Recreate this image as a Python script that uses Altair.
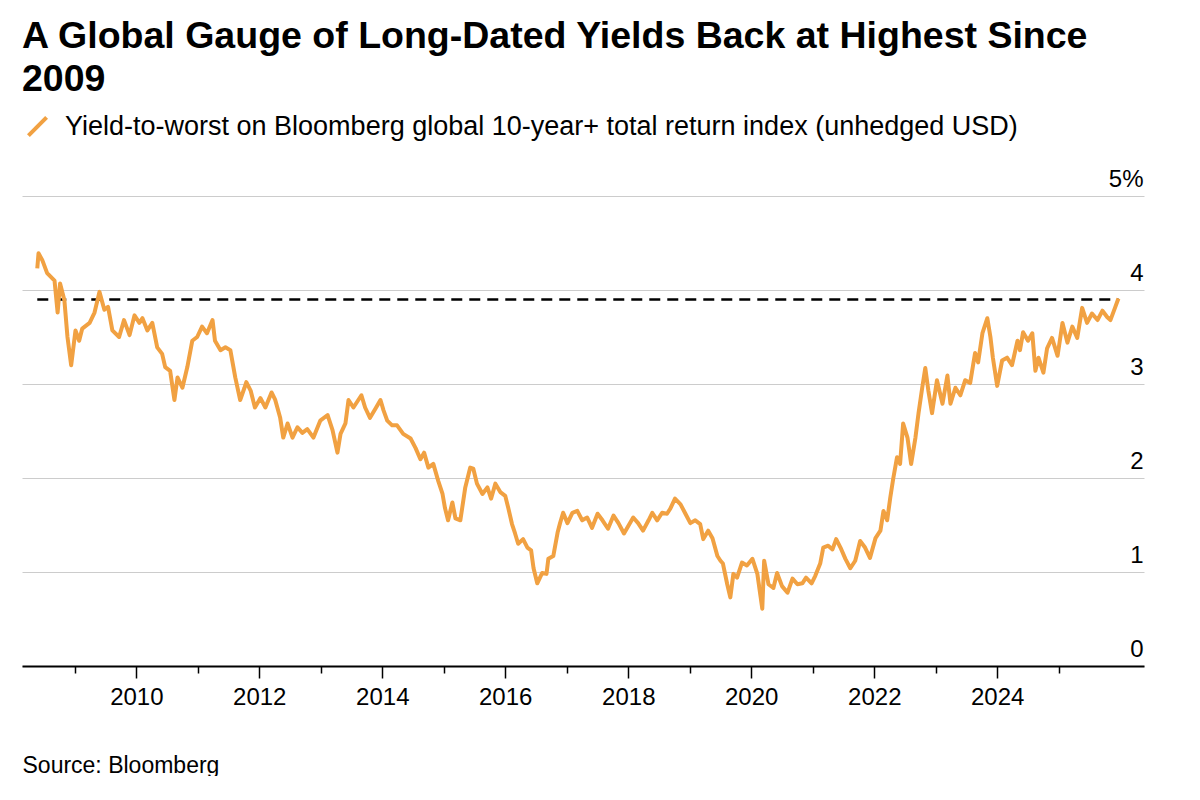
import altair as alt
import pandas as pd

# Decimal years and yield-to-worst (%)
years = [
    2008.39, 2008.41, 2008.47, 2008.55, 2008.67, 2008.72, 2008.76, 2008.83, 2008.88, 2008.94,
    2009.01, 2009.07, 2009.12, 2009.24, 2009.32, 2009.40, 2009.48, 2009.54, 2009.61, 2009.72,
    2009.80, 2009.89, 2009.97, 2010.05, 2010.10, 2010.18, 2010.26, 2010.34, 2010.42, 2010.47,
    2010.55, 2010.62, 2010.67, 2010.75, 2010.83, 2010.91, 2010.99, 2011.07, 2011.15, 2011.24,
    2011.28, 2011.37, 2011.45, 2011.53, 2011.61, 2011.69, 2011.76, 2011.79, 2011.86, 2011.93,
    2012.02, 2012.10, 2012.20, 2012.26, 2012.34, 2012.39, 2012.46, 2012.54, 2012.62, 2012.70,
    2012.78, 2012.88, 2012.99, 2013.11, 2013.19, 2013.27, 2013.32, 2013.40, 2013.45, 2013.53,
    2013.66, 2013.72, 2013.80, 2013.89, 2013.97, 2014.02, 2014.08, 2014.16, 2014.24, 2014.34,
    2014.46, 2014.54, 2014.62, 2014.68, 2014.75, 2014.83, 2014.91, 2014.98, 2015.02, 2015.07,
    2015.14, 2015.19, 2015.27, 2015.35, 2015.43, 2015.48, 2015.54, 2015.63, 2015.71, 2015.77,
    2015.84, 2015.92, 2016.00, 2016.05, 2016.11, 2016.16, 2016.21, 2016.29, 2016.36, 2016.42,
    2016.46, 2016.52, 2016.60, 2016.67, 2016.70, 2016.78, 2016.85, 2016.89, 2016.94, 2017.01,
    2017.09, 2017.17, 2017.25, 2017.33, 2017.41, 2017.50, 2017.58, 2017.67, 2017.76, 2017.84,
    2017.93, 2018.00, 2018.08, 2018.16, 2018.24, 2018.33, 2018.39, 2018.47, 2018.55, 2018.63,
    2018.68, 2018.76, 2018.85, 2018.93, 2019.01, 2019.09, 2019.17, 2019.22, 2019.30, 2019.37,
    2019.45, 2019.50, 2019.54, 2019.61, 2019.66, 2019.71, 2019.77, 2019.85, 2019.93, 2020.02,
    2020.10, 2020.18, 2020.21, 2020.28, 2020.36, 2020.42, 2020.50, 2020.59, 2020.67, 2020.75,
    2020.83, 2020.89, 2020.98, 2021.04, 2021.12, 2021.17, 2021.25, 2021.32, 2021.38, 2021.45,
    2021.53, 2021.61, 2021.69, 2021.77, 2021.85, 2021.93, 2022.02, 2022.10, 2022.15, 2022.21,
    2022.26, 2022.31, 2022.37, 2022.42, 2022.47, 2022.54, 2022.60, 2022.67, 2022.72, 2022.78,
    2022.83, 2022.88, 2022.94, 2023.02, 2023.11, 2023.19, 2023.24, 2023.32, 2023.40, 2023.48,
    2023.56, 2023.64, 2023.69, 2023.76, 2023.84, 2023.89, 2023.93, 2024.00, 2024.08, 2024.16,
    2024.24, 2024.33, 2024.37, 2024.42, 2024.50, 2024.57, 2024.62, 2024.67, 2024.75, 2024.81,
    2024.89, 2024.98, 2025.06, 2025.14, 2025.22, 2025.30, 2025.38, 2025.46, 2025.54, 2025.63,
    2025.71, 2025.79, 2025.84, 2025.92, 2025.97,
]
yields = [
    4.23, 4.39, 4.32, 4.18, 4.10, 3.76, 4.07, 3.89, 3.50, 3.20,
    3.57, 3.46, 3.59, 3.65, 3.76, 3.98, 3.79, 3.82, 3.57, 3.50,
    3.68, 3.52, 3.73, 3.65, 3.70, 3.57, 3.65, 3.39, 3.32, 3.18,
    3.14, 2.83, 3.07, 2.96, 3.18, 3.46, 3.50, 3.61, 3.54, 3.68,
    3.46, 3.36, 3.39, 3.36, 3.07, 2.83, 2.96, 3.02, 2.93, 2.75,
    2.85, 2.75, 2.91, 2.83, 2.64, 2.43, 2.58, 2.43, 2.54, 2.48,
    2.52, 2.43, 2.61, 2.67, 2.51, 2.27, 2.47, 2.58, 2.83, 2.75,
    2.88, 2.75, 2.64, 2.74, 2.83, 2.72, 2.61, 2.56, 2.56, 2.47,
    2.42, 2.32, 2.20, 2.27, 2.11, 2.15, 1.97, 1.83, 1.68, 1.55,
    1.74, 1.57, 1.55, 1.90, 2.11, 2.10, 1.94, 1.83, 1.90, 1.78,
    1.94, 1.85, 1.81, 1.68, 1.51, 1.41, 1.30, 1.35, 1.26, 1.23,
    1.04, 0.88, 0.99, 0.98, 1.14, 1.17, 1.42, 1.52, 1.63, 1.52,
    1.63, 1.65, 1.55, 1.58, 1.47, 1.62, 1.55, 1.46, 1.60, 1.52,
    1.41, 1.49, 1.58, 1.52, 1.44, 1.55, 1.63, 1.55, 1.63, 1.62,
    1.67, 1.78, 1.72, 1.62, 1.52, 1.55, 1.51, 1.35, 1.44, 1.36,
    1.17, 1.12, 1.09, 0.87, 0.73, 0.98, 0.94, 1.10, 1.07, 1.14,
    0.98, 0.61, 1.12, 0.87, 0.83, 0.99, 0.85, 0.78, 0.93, 0.87,
    0.88, 0.94, 0.88, 0.96, 1.09, 1.26, 1.28, 1.24, 1.35, 1.26,
    1.14, 1.04, 1.12, 1.33, 1.26, 1.15, 1.36, 1.44, 1.65, 1.55,
    1.79, 2.00, 2.22, 2.15, 2.58, 2.43, 2.15, 2.43, 2.69, 2.96,
    3.17, 2.93, 2.69, 3.04, 2.79, 3.09, 2.79, 2.96, 2.88, 3.04,
    3.01, 3.33, 3.23, 3.54, 3.70, 3.50, 3.28, 2.98, 3.25, 3.28,
    3.20, 3.46, 3.36, 3.55, 3.46, 3.54, 3.14, 3.28, 3.12, 3.38,
    3.49, 3.30, 3.65, 3.44, 3.61, 3.49, 3.81, 3.65, 3.75, 3.68,
    3.78, 3.71, 3.68, 3.82, 3.91,
]
series_name = "Yield-to-worst on Bloomberg global 10-year+ total return index (unhedged USD)"
reference_level = 3.9
y_ticks = [0, 1, 2, 3, 4, 5]
x_tick_years = list(range(2009, 2026))


def to_ts(d):
    y = int(d)
    start = pd.Timestamp(year=y, month=1, day=1)
    end = pd.Timestamp(year=y + 1, month=1, day=1)
    return start + (end - start) * (d - y)


df = pd.DataFrame({"date": [to_ts(d) for d in years], "value": yields, "series": series_name})
ref = pd.DataFrame({
    "start": [df["date"].iloc[0]],
    "end": [df["date"].iloc[-1]],
    "level": [reference_level],
})

FONT = "Liberation Sans"
ORANGE = "#F1A142"

x_scale = alt.Scale(domain=[alt.DateTime(year=2008, month=2, date=22),
                            alt.DateTime(year=2026, month=5, date=22)])
y_scale = alt.Scale(domain=[0, 5], nice=False)

x_axis = alt.Axis(
    values=[alt.DateTime(year=y, month=1, date=1) for y in x_tick_years],
    labelExpr="year(datum.value) % 2 == 0 ? timeFormat(datum.value, '%Y') : ''",
    tickSize={"condition": {"test": "year(datum.value) % 2 == 0", "value": 12}, "value": 7},
    tickColor="#000000", tickWidth=1.5,
    domainColor="#000000", domainWidth=2,
    labelFontSize=24, labelFont=FONT, labelColor="#000000", labelPadding=7,
    labelFlush=False, labelOverlap=False,
    grid=False,
    title="Source: Bloomberg", titleFont=FONT, titleFontSize=23, titleFontWeight="normal",
    titleColor="#000000", titleAnchor="start", titleAlign="left", titleX=0, titleY=106,
    titleBaseline="alphabetic",
)
y_axis = alt.Axis(
    orient="right", values=y_ticks, domain=False, ticks=False, grid=True,
    gridColor="#cccccc", gridWidth=1,
    labelAlign="right", labelPadding=-1, labelBaseline="alphabetic", labelOffset=-10,
    labelFontSize=24, labelFont=FONT, labelColor="#000000", format="d",
    labelExpr="datum.value == 5 ? '5%' : datum.label",
    title=None,
)

line = alt.Chart(df).mark_line(strokeWidth=4, strokeJoin="round").encode(
    x=alt.X("date:T", scale=x_scale, axis=x_axis),
    y=alt.Y("value:Q", scale=y_scale, axis=y_axis),
    color=alt.Color(
        "series:N",
        scale=alt.Scale(domain=[series_name], range=[ORANGE]),
        legend=alt.Legend(
            orient="none", legendX=2, legendY=-83, title=None,
            symbolType="M-1,1L1,-1", symbolSize=330, symbolStrokeWidth=4,
            labelFontSize=27, labelFont=FONT, labelColor="#000000", labelLimit=1200,
            labelOffset=14,
        ),
    ),
)

dash = alt.Chart(ref).mark_rule(color="#000000", strokeWidth=2.5, strokeDash=[11, 7]).encode(
    x="start:T", x2="end:T", y="level:Q",
)

chart = alt.layer(dash, line).properties(
    width=1122, height=470,
    autosize=alt.AutoSizeParams(type="none"),
    padding={"left": 14, "top": 188, "right": 40, "bottom": 110},
    title=alt.TitleParams(
        text=["A Global Gauge of Long-Dated Yields Back at Highest Since", "2009"],
        font=FONT, fontSize=37.5, fontWeight="bold", color="#000000",
        anchor="start", frame="group", lineHeight=43, offset=15,
    ),
).configure_view(stroke=None)

chart.save("out.html", embed_options={"renderer": "svg", "actions": False})
